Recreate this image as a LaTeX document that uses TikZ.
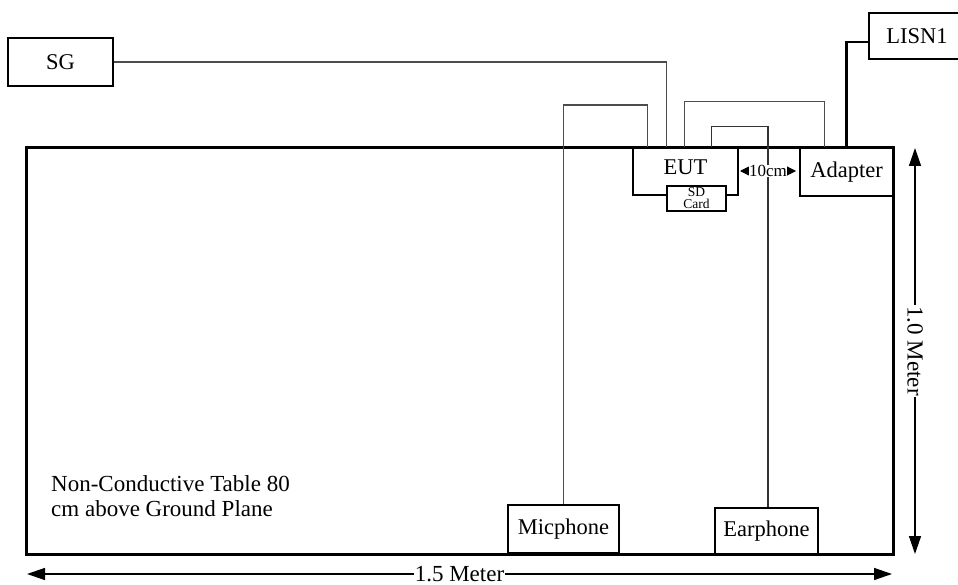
\documentclass[tikz,border=0pt]{standalone}
\usepackage{fontspec}
\setmainfont{Liberation Serif}
\usetikzlibrary{arrows.meta,calc}
\begin{document}
\begin{tikzpicture}[x=1pt,y=-1pt,
  box/.style={draw=black,line width=1.3pt,fill=white,inner sep=0pt,font=\fontsize{22.5}{26}\selectfont},
  smallbox/.style={draw=black,line width=1.3pt,fill=white,inner sep=0pt,align=center,font=\fontsize{13.5}{14}\selectfont},
  wire/.style={draw=black!70,line width=1.1pt},
  pwire/.style={draw=black,line width=2.6pt},
  dimline/.style={draw=black,line width=1.4pt,{Triangle[length=18pt,width=12pt]}-{Triangle[length=18pt,width=12pt]}},
  dimtext/.style={fill=white,inner sep=1pt,font=\fontsize{23}{26}\selectfont}]
\useasboundingbox (0,0) rectangle (958,585);
% table
\draw[line width=3pt] (26,148) rectangle (893,554);
% boxes
\node[box,minimum width=105pt,minimum height=48pt] (SG) at (60.5,62) {SG};
\node[box,minimum width=105pt,minimum height=47pt] (EUT) at (685.5,171.5) {};
\node[box,minimum width=93pt,minimum height=48pt] (AD) at (846.5,172) {Adapter};
\node[box,minimum width=111pt,minimum height=48pt] (MIC) at (563.5,529) {Micphone};
\node[box,minimum width=103pt,minimum height=46pt] (EAR) at (766.5,531) {Earphone};
\node[box,minimum width=100pt,minimum height=46pt] (LISN) at (919,36) {};
\node[font=\fontsize{22.5}{26}\selectfont] (LISNt) at (917,36) {LISN1};
\node[font=\fontsize{22.5}{26}\selectfont] (EUTt) at (685.5,167) {EUT};
\node[smallbox,minimum width=59pt,minimum height=25pt] (SD) at (696.5,198.5) {SD\\[-2pt]Card};
% wires
\draw[wire] (SG.east) -| ([xshift=34pt]EUT.north west);
\draw[wire] (MIC.north) -- (MIC.north |- 0,105) -| ([xshift=15pt]EUT.north west);
\draw[wire] ([xshift=52pt]EUT.north west) -- ++(0,-46) -| ([xshift=25pt]AD.north west);
\draw[wire,draw=black!80] ([xshift=79pt]EUT.north west) -- ++(0,-21) -| (EAR.north -| 768,0);
\draw[pwire] ([xshift=47pt]AD.north west) |- ([yshift=-6pt]LISN.west);
% 10cm
\coordinate (tenL) at (740,171);
\coordinate (tenR) at (796,171);
\draw[line width=1pt,{Triangle[length=9pt,width=9pt]}-{Triangle[length=9pt,width=9pt]}] (tenL) -- (tenR)
  node[midway,fill=white,inner sep=0.3pt,font=\fontsize{17}{19}\selectfont] (ten) {10cm};
% dimensions
\coordinate (vt) at (915,148);
\coordinate (vb) at (915,554);
\draw[dimline] (vt) -- (vb) node[midway,dimtext,rotate=-90] (one) {1.0 Meter};
\coordinate (hl) at (27,574);
\coordinate (hr) at (892,574);
\draw[dimline] (hl) -- (hr) node[midway,dimtext] (onefive) {1.5 Meter};
% table text
\node[anchor=north west,align=left,inner sep=0pt,font=\fontsize{23}{25}\selectfont] (note) at (51,475) {Non-Conductive Table 80\\cm above Ground Plane};
\end{tikzpicture}
\end{document}
